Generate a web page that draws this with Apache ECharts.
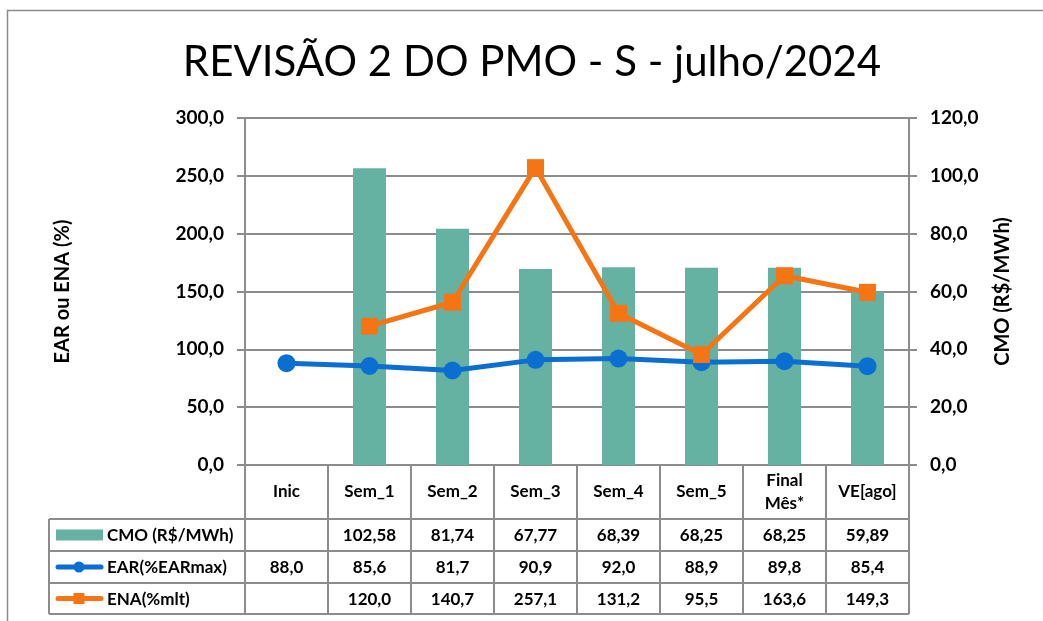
<!DOCTYPE html>
<html lang="pt">

<head>
  <meta charset="UTF-8">
  <title>REVISÃO 2 DO PMO - S - julho/2024</title>
  <script src="https://cdn.jsdelivr.net/npm/echarts@6/dist/echarts.min.js"></script>
  <style>
    body { margin: 0; background: #fff; }
  </style>
</head>

<body>

  <div id="main" style="width: 1043px;height:621px;"></div>

  <script>
    // dados
    var categorias = ['Inic', 'Sem_1', 'Sem_2', 'Sem_3', 'Sem_4', 'Sem_5', 'Final\nMês*', 'VE[ago]']
    var cmo = [null, 102.58, 81.74, 67.77, 68.39, 68.25, 68.25, 59.89]
    var ear = [88.0, 85.6, 81.7, 90.9, 92.0, 88.9, 89.8, 85.4]
    var ena = [null, 120.0, 140.7, 257.1, 131.2, 95.5, 163.6, 149.3]
    var ticksEsq = [0, 50, 100, 150, 200, 250, 300]
    var ticksDir = [0, 20, 40, 60, 80, 100, 120]
    var nomes = ['CMO (R$/MWh)', 'EAR(%EARmax)', 'ENA(%mlt)']

    var verde = '#66b2a2', azul = '#0a6fd0', laranja = '#f57414', cinza = '#8c8c8c'
    var fonte = 'Lato'

    // geometria do grid / tabela
    var gL = 245, gR = 909, gT = 118, gB = 465
    var linhas = [519, 551, 583, 614]
    var tabL = 49
    var colW = (gR - gL) / categorias.length

    function virgula(v, d) {
      return v == null ? '' : v.toFixed(d).replace('.', ',')
    }

    var myChart = echarts.init(document.getElementById('main'))

    var graficos = []
    // moldura
    graficos.push({ type: 'polyline', shape: { points: [[7.5, 621], [7.5, 10.5], [1043, 10.5]] }, style: { stroke: cinza, lineWidth: 1.5, fill: null } })
    // linhas da tabela
    linhas.forEach(function (y) {
      graficos.push({ type: 'line', shape: { x1: tabL, y1: y, x2: gR, y2: y }, style: { stroke: cinza, lineWidth: 2 } })
    })
    graficos.push({ type: 'line', shape: { x1: tabL, y1: linhas[0], x2: tabL, y2: linhas[3] }, style: { stroke: cinza, lineWidth: 2 } })

    // legenda dentro da tabela
    nomes.forEach(function (nome, r) {
      var yc = (linhas[r] + linhas[r + 1]) / 2
      if (r == 0) {
        graficos.push({ type: 'rect', shape: { x: 56, y: yc - 5.5, width: 47, height: 11 }, style: { fill: verde } })
      } else {
        var cor = r == 1 ? azul : laranja
        graficos.push({ type: 'line', shape: { x1: 58, y1: yc, x2: 101, y2: yc }, style: { stroke: cor, lineWidth: 5, lineCap: 'round' } })
        if (r == 1) graficos.push({ type: 'circle', shape: { cx: 79, cy: yc, r: 5.5 }, style: { fill: cor } })
        else graficos.push({ type: 'rect', shape: { x: 73.5, y: yc - 5.5, width: 11, height: 11 }, style: { fill: cor } })
      }
      graficos.push({
        type: 'text', x: 107, y: yc + 1,
        style: { text: nome, font: 'bold 17px ' + fonte, fill: '#000', align: 'left', verticalAlign: 'middle' }
      })
    })

    // valores da tabela
    var linhasDados = [
      cmo.map(function (v) { return virgula(v, 2) }),
      ear.map(function (v) { return virgula(v, 1) }),
      ena.map(function (v) { return virgula(v, 1) })
    ]
    linhasDados.forEach(function (row, r) {
      var yc = (linhas[r] + linhas[r + 1]) / 2 + 1
      row.forEach(function (txt, i) {
        graficos.push({
          type: 'text',
          x: gL + colW * (i + 0.5), y: yc,
          style: { text: txt, font: 'bold 17px ' + fonte, fill: '#000', align: 'center', verticalAlign: 'middle' }
        })
      })
    })

    var fmt = function (v) { return virgula(v, 1) }

    myChart.setOption({
      animation: false,
      title: {
        text: 'REVISÃO 2 DO PMO - S - julho/2024',
        left: 527, top: 36, textAlign: 'center',
        textStyle: { fontFamily: fonte, fontWeight: 'normal', fontSize: 42, color: '#000' }
      },
      grid: { left: gL, right: 1043 - gR, top: gT, bottom: 621 - gB },
      xAxis: {
        type: 'category', data: categorias,
        axisLine: { lineStyle: { color: cinza, width: 2 } },
        axisTick: { show: true, interval: 0, length: linhas[3] - gB, lineStyle: { color: cinza, width: 2 } },
        axisLabel: {
          interval: 0, margin: 27, verticalAlign: 'middle', lineHeight: 23,
          fontFamily: fonte, fontWeight: 'bold', fontSize: 17, color: '#000'
        }
      },
      yAxis: [{
        type: 'value', min: ticksEsq[0], max: ticksEsq[ticksEsq.length - 1], interval: ticksEsq[1] - ticksEsq[0],
        name: 'EAR ou ENA (%)', nameLocation: 'middle', nameGap: 172, nameRotate: 90,
        nameTextStyle: { fontFamily: fonte, fontWeight: 'bold', fontSize: 20, color: '#000' },
        axisLine: { show: true, lineStyle: { color: cinza, width: 2 } },
        axisTick: { show: true, length: 8, lineStyle: { color: cinza, width: 2 } },
        axisLabel: { margin: 21, formatter: fmt, fontFamily: fonte, fontWeight: 'bold', fontSize: 19, color: '#000' },
        splitLine: { lineStyle: { color: cinza, width: 2 } }
      }, {
        type: 'value', min: ticksDir[0], max: ticksDir[ticksDir.length - 1], interval: ticksDir[1] - ticksDir[0],
        name: 'CMO (R$/MWh)', nameLocation: 'middle', nameGap: 84, nameRotate: 90,
        nameTextStyle: { fontFamily: fonte, fontWeight: 'bold', fontSize: 20, color: '#000' },
        axisLine: { show: true, lineStyle: { color: cinza, width: 2 } },
        axisTick: { show: true, length: 8, lineStyle: { color: cinza, width: 2 } },
        axisLabel: { margin: 21, formatter: fmt, fontFamily: fonte, fontWeight: 'bold', fontSize: 19, color: '#000' },
        splitLine: { show: false }
      }],
      series: [{
        name: nomes[0], type: 'bar', yAxisIndex: 1, data: cmo,
        barWidth: 33, itemStyle: { color: verde }
      }, {
        name: nomes[1], type: 'line', yAxisIndex: 0, data: ear,
        symbol: 'circle', symbolSize: 18,
        lineStyle: { color: azul, width: 5 }, itemStyle: { color: azul }
      }, {
        name: nomes[2], type: 'line', yAxisIndex: 0, data: ena,
        symbol: 'rect', symbolSize: 17,
        lineStyle: { color: laranja, width: 5 }, itemStyle: { color: laranja }
      }],
      graphic: graficos
    })
  </script>

</body>

</html>
